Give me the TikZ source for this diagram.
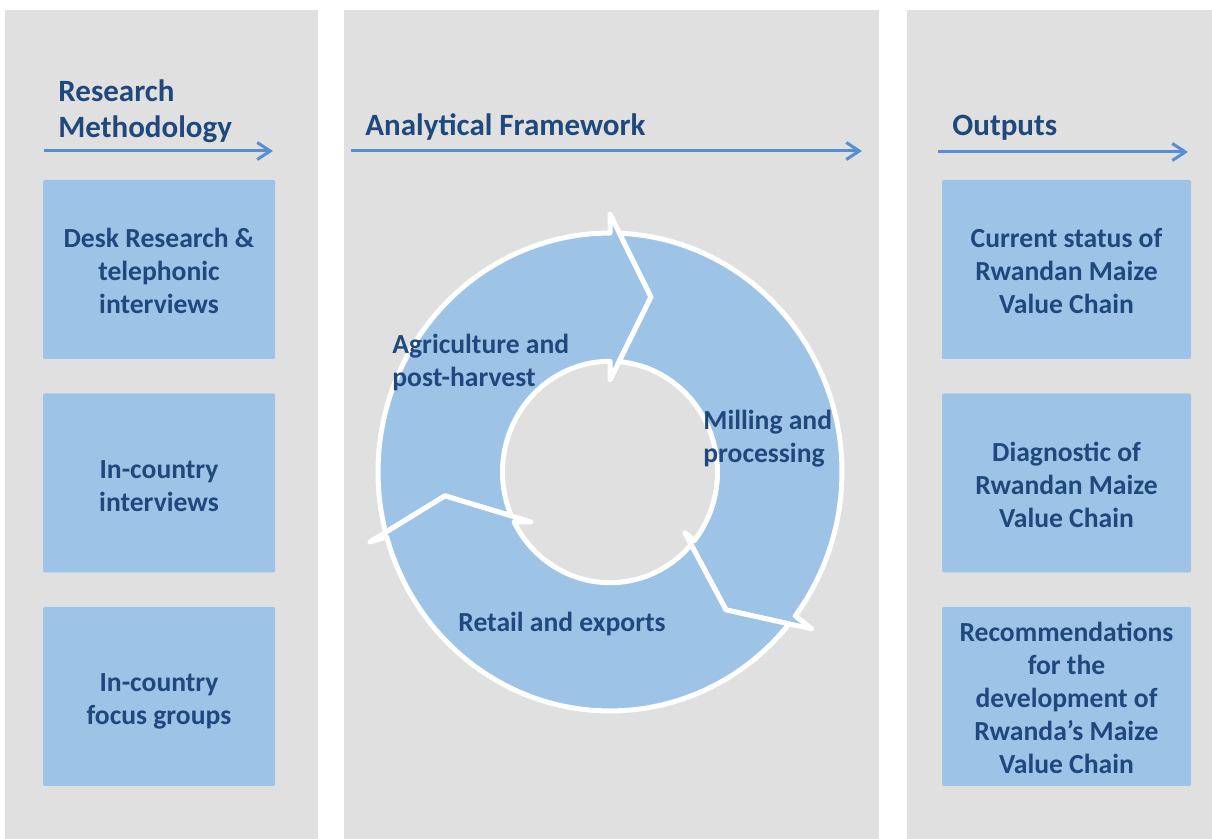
\documentclass[tikz,border=0pt]{standalone}
\usepackage{fontspec}
\setmainfont{Carlito}
\usetikzlibrary{arrows.meta}
\definecolor{panelgray}{HTML}{E0E0E0}
\definecolor{boxblue}{HTML}{9DC3E6}
\definecolor{txtblue}{HTML}{1F497D}
\definecolor{arrblue}{HTML}{558ED5}
\begin{document}
\begin{tikzpicture}[x=0.5pt,y=-0.5pt,
  panelbg/.style={fill=panelgray, draw=none},
  infobox/.style={fill=boxblue, draw=none, rounded corners=1pt, inner sep=0pt},
  leftbox/.style={infobox, minimum width=116pt, minimum height=89.5pt},
  rightbox/.style={infobox, minimum width=124.5pt, minimum height=89.5pt},
  boxtxt/.style={align=center, text=txtblue, font=\fontsize{13.8pt}{16.5pt}\selectfont\bfseries, inner sep=0pt},
  titletxt/.style={text=txtblue, font=\fontsize{15.5pt}{18pt}\selectfont\bfseries, align=left, inner sep=0pt},
  ringtxt/.style={text=txtblue, font=\fontsize{13.8pt}{16.5pt}\selectfont\bfseries, align=left, inner sep=0pt},
  hdrarrow/.style={draw=arrblue, line width=1.5pt, -{Straight Barb[length=6.5pt,width=8.5pt]}},
  ringarrow/.style={fill=boxblue, draw=white, line width=2.5pt, line join=round}
]
\useasboundingbox (0,0) rectangle (1212,839);
\fill[white] (0,0) rectangle (1212,839);
% panels
\fill[panelbg] (5,10) rectangle (318,839);
\fill[panelbg] (344,10) rectangle (879,839);
\fill[panelbg] (907,10) rectangle (1212,839);
% titles
\node[titletxt, anchor=base west] (t1) at (58,138) {Research\\Methodology};
\node[titletxt, anchor=base west] (t2) at (365,136) {Analytical Framework};
\node[titletxt, anchor=base west] (t3) at (952,136) {Outputs};
% header arrows
\coordinate (h1s) at (44,151);  \coordinate (h1e) at (273,151);
\coordinate (h2s) at (351,151); \coordinate (h2e) at (862,151);
\coordinate (h3s) at (938,152); \coordinate (h3e) at (1188,152);
\draw[hdrarrow] (h1s) -- (h1e);
\draw[hdrarrow] (h2s) -- (h2e);
\draw[hdrarrow] (h3s) -- (h3e);
% left boxes
\node[leftbox] (l1) at (159,269.5) {};
\node[leftbox] (l2) at (159,483) {};
\node[leftbox] (l3) at (159,696.5) {};
\node[boxtxt, yshift=-0.75pt] (l1t) at (l1.center) {Desk Research \&\\telephonic\\interviews};
\node[boxtxt, yshift=-1.75pt] (l2t) at (l2.center) {In-country\\interviews};
\node[boxtxt, yshift=-2.5pt] (l3t) at (l3.center) {In-country\\focus groups};
% right boxes
\node[rightbox] (r1) at (1066.5,269.5) {};
\node[rightbox] (r2) at (1066.5,483) {};
\node[rightbox] (r3) at (1066.5,696.5) {};
\node[boxtxt, yshift=-1pt] (r1t) at (r1.center) {Current status of\\Rwandan Maize\\Value Chain};
\node[boxtxt, yshift=-1pt] (r2t) at (r2.center) {Diagnostic of\\Rwandan Maize\\Value Chain};
\node[boxtxt, yshift=-0.75pt] (r3t) at (r3.center) {Recommendations\\for the\\development of\\Rwanda’s Maize\\Value Chain};
% ring of three arrows
\begin{scope}[shift={(610,472)}, yscale=-1.03]
  % Agriculture and post-harvest
  \path[ringarrow] (194.6:232) arc[start angle=194.6, end angle=90, radius=232]
    -- (90:250.5) -- (76.43:174.8) -- (90:89.3) -- (90:107.5)
    arc[start angle=90, end angle=203.3, radius=107.5]
    -- (188:166.6) -- cycle;
  % Milling and processing
  \path[ringarrow] (87.65:232) arc[start angle=87.65, end angle=-37.03, radius=232]
    -- (-37.03:253) -- (-49.1:177.2) -- (-38.3:95.5) -- (-38.3:107.5)
    arc[start angle=-38.3, end angle=85.16, radius=107.5]
    -- (76.43:174.8) -- cycle;
  % Retail and exports
  \path[ringarrow] (-39.47:232) arc[start angle=-39.47, end angle=-164.2, radius=232]
    -- (-164.2:249.4) -- (-172:166.6) -- (-148.5:92.7) -- (-153.2:107.5)
    arc[start angle=-153.2, end angle=-41.0, radius=107.5]
    -- (-49.1:177.2) -- cycle;
\end{scope}
\node[ringtxt, anchor=base west] (agri) at (392,387) {Agriculture and\\post-harvest};
\node[ringtxt, anchor=base west] (mill) at (703,463) {Milling and\\processing};
\node[ringtxt, anchor=base west] (retail) at (458,632) {Retail and exports};
\end{tikzpicture}
\end{document}
